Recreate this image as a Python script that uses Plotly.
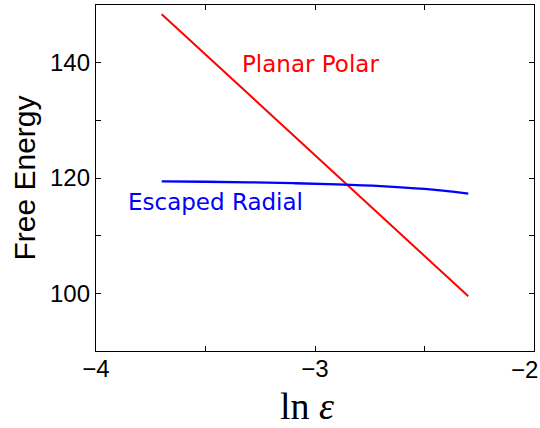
import plotly.graph_objects as go

# log of the small parameter epsilon
ln_eps = [-3.7, -3.5, -3.3, -3.1, -2.9, -2.7, -2.5, -2.3]
# free energy of the two configurations
planar_polar = [148.4, 141.4, 134.4, 127.4, 120.5, 113.5, 106.5, 99.5]
escaped_radial = [119.4, 119.35, 119.25, 119.1, 118.9, 118.6, 118.1, 117.3]

x_ticks = [-4, -3.5, -3, -2.5, -2]
x_tick_text = ["\u22124", "", "\u22123", "", ""]
x_edge_label = "\u22122"  # last x label, drawn right-aligned so it stays inside the page
y_ticks = [100, 110, 120, 130, 140]
y_tick_text = ["100", "", "120", "", "140"]
x_title = "ln <i>\u03b5</i>"

tick_font = dict(family="Liberation Sans", size=24, color="black")

fig = go.Figure()
fig.add_trace(go.Scatter(x=ln_eps, y=planar_polar, mode="lines",
                         line=dict(color="#ff0000", width=2), showlegend=False))
fig.add_trace(go.Scatter(x=ln_eps, y=escaped_radial, mode="lines",
                         line=dict(color="#0000ff", width=2.3, shape="spline"),
                         showlegend=False))

fig.add_annotation(x=-3.02, y=139.7, text="Planar Polar", showarrow=False,
                   font=dict(family="DejaVu Sans", size=23, color="#ff0000"))
fig.add_annotation(x=-3.456, y=115.8, text="Escaped Radial", showarrow=False,
                   font=dict(family="DejaVu Sans", size=23, color="#0000ff"))
fig.add_annotation(x=x_ticks[-1], xref="x", y=0, yref="paper", text=x_edge_label,
                   showarrow=False, xanchor="right", yanchor="top", xshift=6, yshift=-3,
                   font=tick_font)
# x-axis title, set slightly left of the plot centre
fig.add_annotation(x=0.5, xref="paper", y=0, yref="paper", text=x_title,
                   showarrow=False, xanchor="center", yanchor="top", xshift=-8, yshift=-32,
                   font=dict(family="Liberation Serif", size=38, color="black"))

axis_common = dict(showline=True, linecolor="black", linewidth=1.3, mirror="ticks",
                   ticks="inside", ticklen=5, tickcolor="black", tickwidth=1,
                   showgrid=False, zeroline=False, automargin=False,
                   tickfont=tick_font)

fig.update_xaxes(range=[-4, -2], tickmode="array", tickvals=x_ticks, ticktext=x_tick_text,
                 ticklabelstandoff=-4, **axis_common)
fig.update_yaxes(range=[90, 150], tickmode="array", tickvals=y_ticks, ticktext=y_tick_text,
                 title=dict(text="Free Energy", standoff=5,
                            font=dict(family="Liberation Sans", size=30, color="black")),
                 **axis_common)

fig.update_layout(width=540, height=428, paper_bgcolor="white", plot_bgcolor="white",
                  margin=dict(l=96, r=6, t=5, b=77))

fig.write_html("out.html")
